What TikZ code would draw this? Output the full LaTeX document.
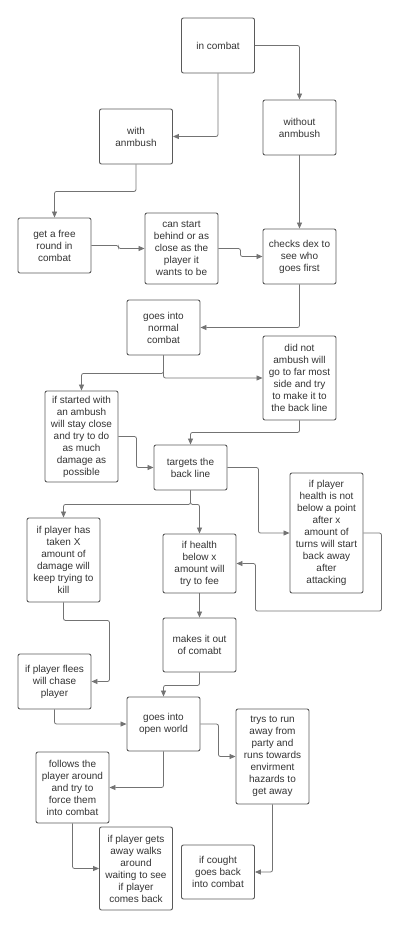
\documentclass[tikz,border=0pt]{standalone}
\usepackage{fontspec}
\setmainfont{Liberation Sans}
\usetikzlibrary{calc}
\usetikzlibrary{arrows.meta}

\definecolor{boxline}{HTML}{5A5A5A}
\definecolor{flowline}{HTML}{737373}
\definecolor{textgray}{HTML}{333333}

\begin{document}
\begin{tikzpicture}[x=1pt, y=-1pt,
        card/.style={draw=boxline, line width=0.9pt, rounded corners=2pt, minimum width=73pt,
            inner sep=0pt, align=center, text=textgray, font=\fontsize{10}{12}\selectfont},
        flow/.style={draw=flowline, line width=0.8pt, rounded corners=2pt,
            -{Triangle[length=6pt, width=5pt]}}]
        \useasboundingbox (0,0) rectangle (400,929);

        \node[card, minimum height=55pt] (incombat) at (218,45.5) {in combat};
        \node[card, minimum height=55pt] (withamb) at (136,136.5) {with\\anmbush};
        \node[card, minimum height=55pt] (withoutamb) at (299.5,127.5) {without\\anmbush};

        \node[card, minimum height=55pt] (freeround) at (54.5,245.5) {get a free\\round in\\combat};
        \node[card, minimum height=71pt] (canstart) at (181.5,248.5) {can start\\behind or as\\close as the\\player it\\wants to be};
        \node[card, minimum height=55pt] (checksdex) at (299.5,256.5) {checks dex to\\see who\\goes first};

        \node[card, minimum height=55pt] (normal) at (163.5,327.5) {goes into\\normal\\combat};
        \node[card, minimum height=84pt] (noambush) at (299.5,378) {did not\\ambush will\\go to far most\\side and try\\to make it to\\the back line};
        \node[card, minimum height=91pt] (stayclose) at (81.5,436.5) {if started with\\an ambush\\will stay close\\and try to do\\as much\\damage as\\possible};

        \node[card, minimum height=45pt] (backline) at (190.5,467.5) {targets the\\back line};
        \node[card, minimum height=120pt] (backaway) at (326.5,533) {if player\\health is not\\below a point\\after x\\amount of\\turns will start\\back away\\after\\attacking};
        \node[card, minimum height=84pt] (keeptrying) at (63.5,560) {if player has\\taken X\\amount of\\damage will\\keep trying to\\kill};
        \node[card, minimum height=59pt] (flee) at (199.5,563.5) {if health\\below x\\amount will\\try to fee};

        \node[card, minimum height=54pt] (outofcombat) at (199.5,645) {makes it out\\of comabt};
        \node[card, minimum height=55pt] (chase) at (54.5,681.5) {if player flees\\will chase\\player};
        \node[card, minimum height=54pt] (openworld) at (163.5,724) {goes into\\open world};
        \node[card, minimum height=95pt] (runaway) at (272.5,756.5) {trys to run\\away from\\party and\\runs towards\\envirment\\hazards to\\get away};
        \node[card, minimum height=71pt] (follows) at (72.5,787.5) {follows the\\player around\\and try to\\force them\\into combat};
        \node[card, minimum height=83pt] (getsaway) at (136,868.5) {if player gets\\away walks\\around\\waiting to see\\if player\\comes back};
        \node[card, minimum height=54pt] (cought) at (218,872) {if cought\\goes back\\into combat};

        % start of combat
        \draw[flow] (incombat.east) -| (withoutamb.north);
        \draw[flow] (incombat.south) |- (withamb.east);
        \draw[flow] (withamb.south) -- ++(0,27) -| (freeround.north);
        \draw[flow] (freeround.east) -- ++(27,0) |- (canstart.west);
        \draw[flow] (canstart.east) -- ++(22,0) |- (checksdex.west);
        \draw[flow] (withoutamb.south) -- (checksdex.north);
        \draw[flow] (checksdex.south) |- (normal.east);

        % normal combat
        \draw[flow] (normal.south) -- ++(0,18) -| (stayclose.north);
        \draw[flow] (normal.south) |- (noambush.west);
        \draw[flow] (noambush.south) -- ++(0,12) -| (backline.north);
        \draw[flow] (stayclose.east) -- ++(18,0) |- (backline.west);
        \draw[flow] (backline.south) -- ++(0,14) -| (keeptrying.north);
        \draw[flow] (backline.south) -- ++(0,14) -| (flee.north);
        \draw[flow] (backline.east) -- ++(31,0) |- (backaway.west);
        \draw[flow] (backaway.east) -- ++(18,0) -- ++(0,78) -| ([xshift=19pt]flee.east) -- (flee.east);

        % leaving combat
        \draw[flow] (flee.south) -- (outofcombat.north);
        \draw[flow] (keeptrying.south) -- ++(0,18) -| ([xshift=18pt]chase.east) -- (chase.east);
        \draw[flow] (outofcombat.south) -- ++(0,13) -| (openworld.north);
        \draw[flow] (chase.south) |- (openworld.west);
        \draw[flow] (openworld.east) -- ++(18,0) |- (runaway.west);
        \draw[flow] (openworld.south) |- (follows.east);
        \draw[flow] (follows.south) |- (getsaway.west);
        \draw[flow] (runaway.south) |- (cought.east);
    \end{tikzpicture}
\end{document}
